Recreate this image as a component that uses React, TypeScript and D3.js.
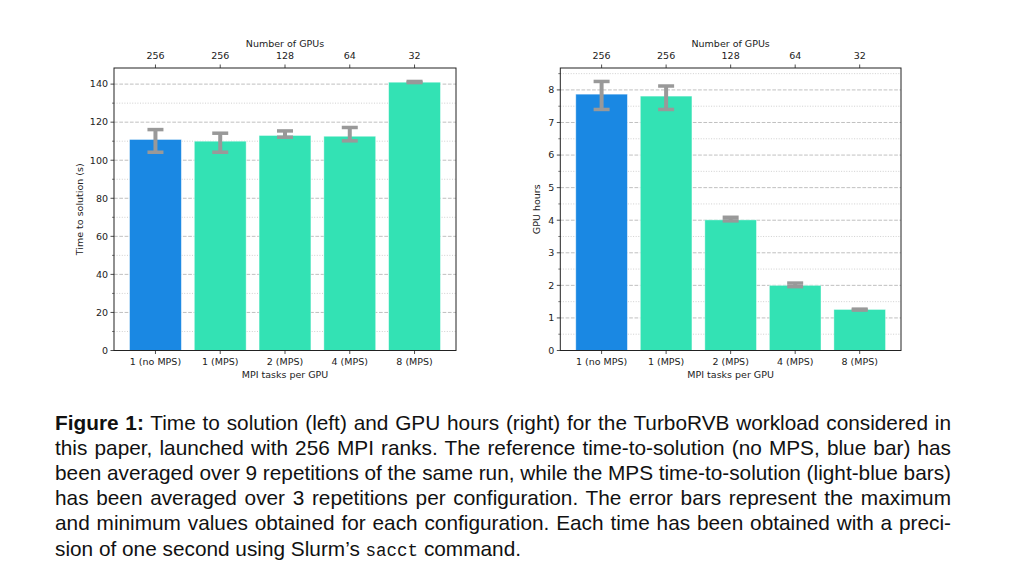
import React, { useLayoutEffect, useRef } from "react";
import * as d3 from "d3";

const categories = ["1 (no MPS)", "1 (MPS)", "2 (MPS)", "4 (MPS)", "8 (MPS)"];
const gpuCounts = ["256", "256", "128", "64", "32"];

const timeValues = [110.9, 110.0, 113.0, 112.6, 141.0];
const timeLow = [104.2, 104.2, 112.1, 110.2, 140.8];
const timeHigh = [116.1, 114.2, 115.4, 117.2, 141.4];
const timeTicks = [0, 20, 40, 60, 80, 100, 120, 140];
const timeMinor = [10, 30, 50, 70, 90, 110, 130, 150];

const hoursValues = [7.87, 7.81, 4.01, 2.0, 1.26];
const hoursLow = [7.4, 7.4, 3.98, 1.96, 1.24];
const hoursHigh = [8.26, 8.12, 4.09, 2.07, 1.27];
const hoursTicks = [0, 1, 2, 3, 4, 5, 6, 7, 8];
const hoursMinor = [0.5, 1.5, 2.5, 3.5, 4.5, 5.5, 6.5, 7.5, 8.5];

const barColors = ["#1a88e3", "#33e2b4", "#33e2b4", "#33e2b4", "#33e2b4"];

const captionFirstBold = "Figure 1:";
const captionFirstRest = " Time to solution (left) and GPU hours (right) for the TurboRVB workload considered in";
const captionLines = [
  "this paper, launched with 256 MPI ranks. The reference time-to-solution (no MPS, blue bar) has",
  "been averaged over 9 repetitions of the same run, while the MPS time-to-solution (light-blue bars)",
  "has been averaged over 3 repetitions per configuration. The error bars represent the maximum",
  "and minimum values obtained for each configuration. Each time has been obtained with a preci-",
];

const tickFont = "'DejaVu Sans', sans-serif";

type PanelProps = {
  left: number;
  right: number;
  top: number;
  bottom: number;
  values: number[];
  low: number[];
  high: number[];
  ticks: number[];
  minor: number[];
  yLabel: string;
  yLabelX: number;
};

function Panel(p: PanelProps) {
  const n = categories.length;
  const x = d3.scaleLinear().domain([-0.64, n - 1 + 0.64]).range([p.left, p.right]);
  const ymax = (d3.max(p.high) as number) * 1.05;
  const y = d3.scaleLinear().domain([0, ymax]).range([p.bottom, p.top]);
  const bw = x(0.8) - x(0);
  const capHalf = 8;
  const minorIn = p.minor.filter((v) => v <= ymax);
  return (
    <g>
      {minorIn.map((v) => (
        <line key={"mg" + v} x1={p.left} x2={p.right} y1={y(v)} y2={y(v)} stroke="#c4c4c4" strokeWidth={0.8} strokeDasharray="1,1.6" />
      ))}
      {p.ticks.map((v) => (
        <line key={"g" + v} x1={p.left} x2={p.right} y1={y(v)} y2={y(v)} stroke="#b0b0b0" strokeWidth={0.8} strokeDasharray="3.7,1.6" />
      ))}
      {p.values.map((v, i) => (
        <rect key={"b" + i} x={x(i) - bw / 2} y={y(v)} width={bw} height={y(0) - y(v)} fill={barColors[i]} stroke="#ffffff" strokeOpacity={0.5} strokeWidth={0.8} />
      ))}
      {p.values.map((v, i) => (
        <g key={"e" + i} stroke="#999999">
          <line x1={x(i)} x2={x(i)} y1={y(p.low[i])} y2={y(p.high[i])} strokeWidth={4} />
          <line x1={x(i) - capHalf} x2={x(i) + capHalf} y1={y(p.low[i])} y2={y(p.low[i])} strokeWidth={3.5} />
          <line x1={x(i) - capHalf} x2={x(i) + capHalf} y1={y(p.high[i])} y2={y(p.high[i])} strokeWidth={3.5} />
        </g>
      ))}
      <rect x={p.left} y={p.top} width={p.right - p.left} height={p.bottom - p.top} fill="none" stroke="#222" strokeWidth={1} />
      {p.ticks.map((v) => (
        <g key={"yt" + v}>
          <line x1={p.left - 3.5} x2={p.left} y1={y(v)} y2={y(v)} stroke="#222" strokeWidth={0.8} />
          <text x={p.left - 6} y={y(v)} dy="0.35em" textAnchor="end" fontSize={9.5} fontFamily={tickFont} fill="#222">{v}</text>
        </g>
      ))}
      {minorIn.map((v) => (
        <line key={"ym" + v} x1={p.left - 2} x2={p.left} y1={y(v)} y2={y(v)} stroke="#222" strokeWidth={0.6} />
      ))}
      {categories.map((c, i) => (
        <g key={"xt" + i}>
          <line x1={x(i)} x2={x(i)} y1={p.bottom} y2={p.bottom + 3.5} stroke="#222" strokeWidth={0.8} />
          <text x={x(i)} y={p.bottom + 11} dy="0.35em" textAnchor="middle" fontSize={9.5} fontFamily={tickFont} fill="#222">{c}</text>
          <line x1={x(i)} x2={x(i)} y1={p.top - 3.5} y2={p.top} stroke="#222" strokeWidth={0.8} />
          <text x={x(i)} y={p.top - 12} dy="0.35em" textAnchor="middle" fontSize={9.5} fontFamily={tickFont} fill="#222">{gpuCounts[i]}</text>
        </g>
      ))}
      <text x={(p.left + p.right) / 2} y={p.bottom + 24.5} dy="0.35em" textAnchor="middle" fontSize={9.5} fontFamily={tickFont} fill="#222">MPI tasks per GPU</text>
      <text x={(p.left + p.right) / 2} y={p.top - 24} dy="0.35em" textAnchor="middle" fontSize={9.5} fontFamily={tickFont} fill="#222">Number of GPUs</text>
      <text transform={`translate(${p.yLabelX},${(p.top + p.bottom) / 2}) rotate(-90)`} dy="0.35em" textAnchor="middle" fontSize={9.5} fontFamily={tickFont} fill="#222">{p.yLabel}</text>
    </g>
  );
}

export default function App() {
  const capFont = "'Liberation Sans', Arial, Helvetica, sans-serif";
  const base = 429.5;
  const lh = 25.2;
  const capLeft = 55;
  const capWidth = 896;
  const refs = useRef<(SVGTextElement | null)[]>([]);

  useLayoutEffect(() => {
    refs.current.forEach((el) => {
      if (!el) return;
      el.setAttribute("word-spacing", "0");
      const w = el.getComputedTextLength();
      const txt = el.textContent || "";
      const spaces = (txt.match(/ /g) || []).length;
      if (spaces > 0) {
        el.setAttribute("word-spacing", String((capWidth - w) / spaces));
      }
    });
  }, []);

  return (
    <svg width={1024} height={587} style={{ position: "absolute", left: 0, top: 0, background: "#fff" }}>
      <rect width={1024} height={587} fill="#fff" />
      <Panel left={114} right={456} top={68} bottom={350.5} values={timeValues} low={timeLow} high={timeHigh} ticks={timeTicks} minor={timeMinor} yLabel="Time to solution (s)" yLabelX={80} />
      <Panel left={560.3} right={901} top={68} bottom={350.5} values={hoursValues} low={hoursLow} high={hoursHigh} ticks={hoursTicks} minor={hoursMinor} yLabel="GPU hours" yLabelX={537} />
      <g fontFamily={capFont} fontSize={20.8} fill="#111">
        <text ref={(el) => { refs.current[0] = el; }} x={capLeft} y={base}>
          <tspan fontWeight="bold">{captionFirstBold}</tspan>
          <tspan>{captionFirstRest}</tspan>
        </text>
        {captionLines.map((l, i) => (
          <text key={i} ref={(el) => { refs.current[i + 1] = el; }} x={capLeft} y={base + lh * (i + 1)}>{l}</text>
        ))}
        <text x={capLeft} y={base + lh * 5}>
          <tspan>sion of one second using Slurm’s </tspan>
          <tspan fontFamily="'Liberation Mono', 'DejaVu Sans Mono', monospace" fontSize={17.5}>sacct</tspan>
          <tspan> command.</tspan>
        </text>
      </g>
    </svg>
  );
}
